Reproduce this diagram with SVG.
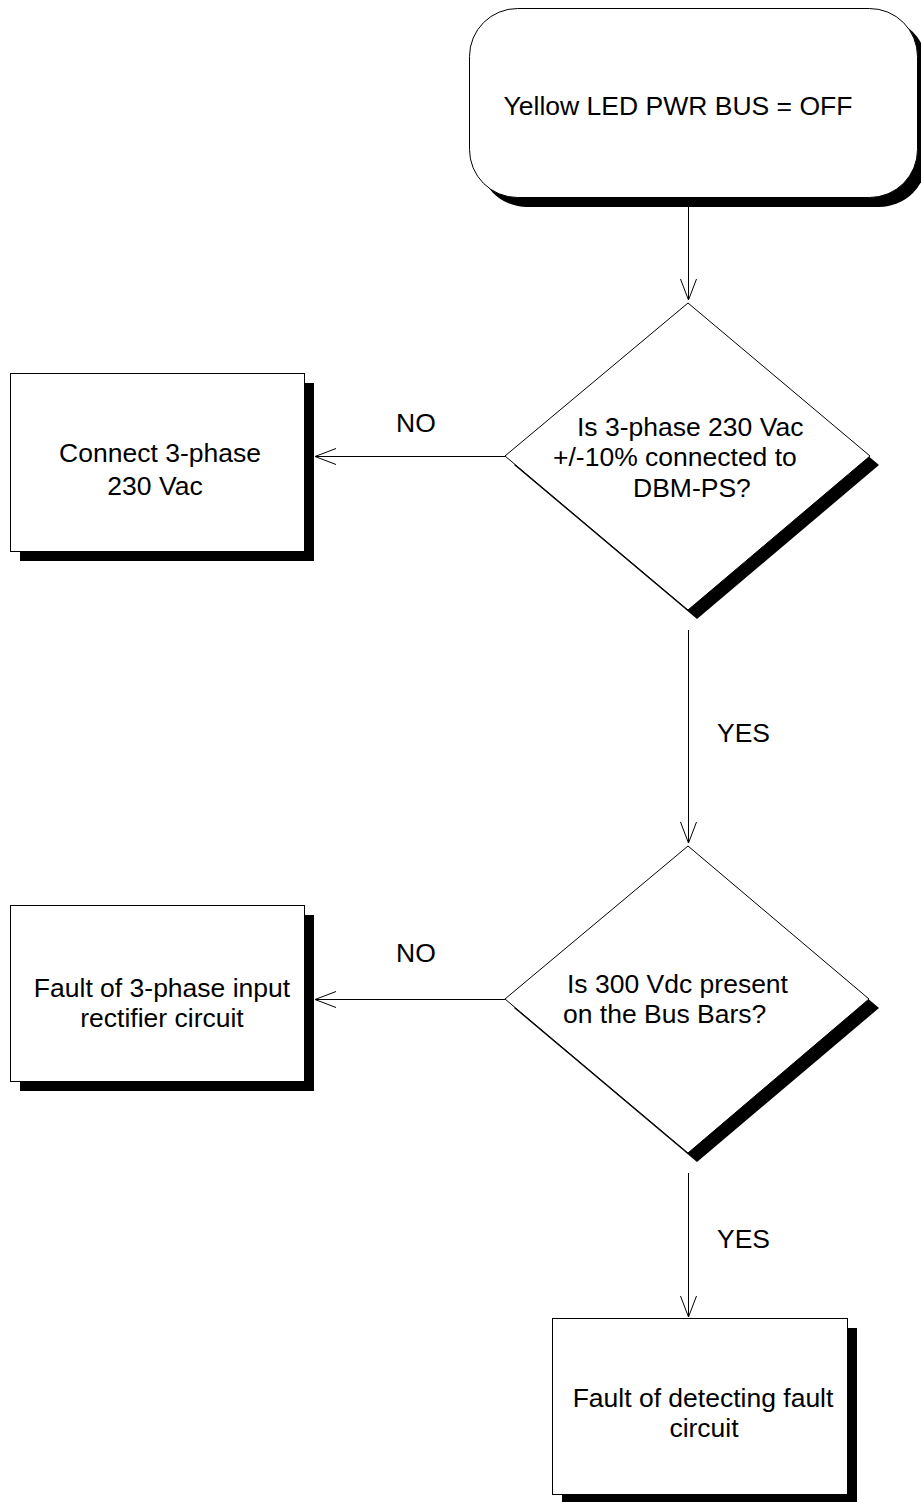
<svg xmlns="http://www.w3.org/2000/svg" width="921" height="1502" viewBox="0 0 921 1502">
  <style>
    .shape { fill: #fff; stroke: #000; stroke-width: 1; }
    .shadow { fill: #000; stroke: none; }
    .label { font-family: "Liberation Sans", Arial, sans-serif; font-size: 26.5px; fill: #000; }
    .mid { text-anchor: middle; }
    .conn { fill: none; stroke: #000; stroke-width: 1; }
  </style>
  <defs>
    <marker id="arrow" markerWidth="24" markerHeight="20" refX="21" refY="9" orient="auto" markerUnits="userSpaceOnUse">
      <path d="M0,1 L21,9 L0,17" fill="none" stroke="#000" stroke-width="1"/>
    </marker>
  </defs>
  <rect width="921" height="1502" fill="#fff"/>

  <!-- start terminator -->
  <g id="start">
    <rect class="shadow" x="479" y="18" width="448" height="189" rx="48" ry="48"/>
    <rect class="shape" x="469.5" y="8.5" width="448" height="189" rx="48" ry="48"/>
    <text class="label mid" x="678" y="115">Yellow LED PWR BUS = OFF</text>
  </g>

  <!-- decision: mains connected -->
  <g id="check-mains">
    <polygon class="shadow" points="697,312 879,465 697,619 514,465"/>
    <polygon class="shape" points="688,303 870,456 688,610 505,456"/>
    <text class="label" x="577" y="436">Is 3-phase 230 Vac</text>
    <text class="label" x="553" y="466">+/-10% connected to</text>
    <text class="label" x="633" y="497">DBM-PS?</text>
  </g>

  <!-- action: connect mains -->
  <g id="connect-mains">
    <rect class="shadow" x="20" y="383" width="294" height="178"/>
    <rect class="shape" x="10.5" y="373.5" width="294" height="178"/>
    <text class="label mid" x="160" y="462">Connect 3-phase</text>
    <text class="label mid" x="155" y="495">230 Vac</text>
  </g>

  <!-- decision: bus voltage -->
  <g id="check-bus">
    <polygon class="shadow" points="697,855 879,1008 697,1162 514,1008"/>
    <polygon class="shape" points="688,846 869,999 688,1153 505,999"/>
    <text class="label" x="567" y="993">Is 300 Vdc present</text>
    <text class="label" x="563" y="1023">on the Bus Bars?</text>
  </g>

  <!-- fault: rectifier -->
  <g id="fault-rectifier">
    <rect class="shadow" x="20" y="915" width="294" height="176"/>
    <rect class="shape" x="10.5" y="905.5" width="294" height="176"/>
    <text class="label mid" x="162" y="997">Fault of 3-phase input</text>
    <text class="label mid" x="162" y="1027">rectifier circuit</text>
  </g>

  <!-- fault: detection circuit -->
  <g id="fault-detect">
    <rect class="shadow" x="562" y="1328" width="295" height="176"/>
    <rect class="shape" x="552.5" y="1318.5" width="295" height="176"/>
    <text class="label mid" x="703" y="1407">Fault of detecting fault</text>
    <text class="label mid" x="704" y="1437">circuit</text>
  </g>

  <!-- connectors -->
  <g id="connectors">
    <line class="conn" x1="688.5" y1="207" x2="688.5" y2="300" marker-end="url(#arrow)"/>
    <line class="conn" x1="505" y1="456.5" x2="315" y2="456.5" marker-end="url(#arrow)"/>
    <line class="conn" x1="688.5" y1="630" x2="688.5" y2="843" marker-end="url(#arrow)"/>
    <line class="conn" x1="505" y1="999.5" x2="315" y2="999.5" marker-end="url(#arrow)"/>
    <line class="conn" x1="688.5" y1="1173" x2="688.5" y2="1317" marker-end="url(#arrow)"/>
  </g>

  <!-- branch labels -->
  <g id="branch-labels">
    <text class="label" x="396" y="432">NO</text>
    <text class="label" x="717" y="742">YES</text>
    <text class="label" x="396" y="962">NO</text>
    <text class="label" x="717" y="1248">YES</text>
  </g>
</svg>
